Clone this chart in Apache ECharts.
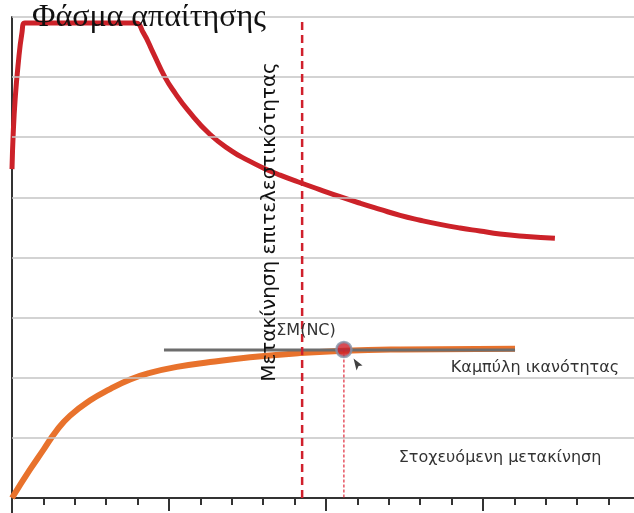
<!DOCTYPE html>
<html>
<head>
<meta charset="utf-8">
<script src="https://cdn.jsdelivr.net/npm/echarts@6/dist/echarts.min.js"></script>
<style>
  html, body { margin: 0; padding: 0; background: #fff; }
  #chart { width: 634px; height: 513px; }
</style>
</head>
<body>
<div id="chart"></div>
<script>
// Φάσμα απαίτησης (demand spectrum)
const demandX = [0, 0.04, 0.1, 0.19, 0.32, 0.41, 3.92, 4.18, 4.5, 4.87, 5.2, 5.6, 6.3, 7.0, 7.5, 8.0, 8.54, 9.1, 9.8, 10.4, 11.1, 11.72, 12.36, 13.0, 13.63, 14.27, 14.9, 15.54, 16.39, 17.29];
const demandY = [5.47, 6.08, 6.63, 7.18, 7.75, 7.9, 7.9, 7.74, 7.4, 7.0, 6.73, 6.45, 6.05, 5.77, 5.62, 5.49, 5.37, 5.26, 5.13, 5.02, 4.9, 4.8, 4.7, 4.62, 4.55, 4.49, 4.44, 4.39, 4.35, 4.32];

// Καμπύλη ικανότητας (capacity curve)
const capacityX = [0, 0.57, 1.0, 1.42, 1.85, 2.48, 3.12, 3.76, 4.39, 5.25, 6.31, 7.58, 9.17, 10.57, 12.36, 16.02];
const capacityY = [0, 0.47, 0.8, 1.12, 1.37, 1.62, 1.81, 1.97, 2.08, 2.18, 2.26, 2.34, 2.41, 2.45, 2.47, 2.48];

// bilinear line, performance point, target displacement
const bilinearX = [4.84, 16.02];
const bilinearY = [2.46, 2.46];
const perfPoint = [10.57, 2.47];
const targetDispX = 9.24;
const cursorPos = [11.02, 2.22];

const gridY = [1, 2, 3, 4, 5, 6, 7, 8];

const pairs = (xs, ys) => xs.map((x, i) => [x, ys[i]]);

const chart = echarts.init(document.getElementById('chart'));

chart.setOption({
  animation: false,
  grid: { left: 12, right: -6, top: 17, bottom: 0, outerBoundsMode: 'none' },
  xAxis: {
    type: 'value',
    min: 0,
    max: 20,
    interval: 5,
    axisLine: { show: true, onZero: true, lineStyle: { color: '#333', width: 2 } },
    axisTick: { show: true, length: 13, lineStyle: { color: '#333', width: 2 } },
    minorTick: { show: true, splitNumber: 5, length: 7, lineStyle: { color: '#333', width: 2 } },
    axisLabel: { show: false },
    splitLine: { show: false }
  },
  yAxis: {
    type: 'value',
    min: -0.25,
    max: 8,
    axisLine: { show: true, lineStyle: { color: '#333', width: 2 } },
    axisTick: { show: false },
    axisLabel: { show: false },
    splitLine: { show: false }
  },
  series: [
    {
      // horizontal gridlines
      type: 'line',
      data: [],
      z: 1,
      markLine: {
        silent: true,
        symbol: 'none',
        label: { show: false },
        lineStyle: { color: '#c4c4c4', width: 1.5, type: 'solid' },
        data: gridY.map(v => ({ yAxis: v }))
      }
    },
    {
      name: 'Καμπύλη ικανότητας',
      type: 'line',
      data: pairs(capacityX, capacityY),
      showSymbol: false,
      smooth: 0.5,
      lineStyle: { color: '#e8722c', width: 6 },
      z: 3
    },
    {
      type: 'line',
      data: pairs(bilinearX, bilinearY),
      showSymbol: false,
      lineStyle: { color: '#6d6d6d', width: 3 },
      z: 4
    },
    {
      name: 'Φάσμα απαίτησης',
      type: 'line',
      data: pairs(demandX, demandY),
      showSymbol: false,
      smooth: 0.5,
      lineStyle: { color: '#cc2229', width: 5 },
      z: 3
    },
    {
      type: 'line',
      data: [[targetDispX, 0], [targetDispX, 8]],
      showSymbol: false,
      lineStyle: { color: '#d0202c', width: 2.5, type: [8, 5] },
      z: 5
    },
    {
      type: 'line',
      data: [[perfPoint[0], perfPoint[1]], [perfPoint[0], 0]],
      showSymbol: false,
      lineStyle: { color: '#e0283a', width: 1.2, type: [3, 2] },
      z: 5
    },
    {
      type: 'scatter',
      data: [perfPoint],
      symbolSize: 15,
      itemStyle: { color: '#cc1f2a', borderColor: '#8393aa', borderWidth: 2.5 },
      z: 6
    },
    {
      type: 'scatter',
      data: [cursorPos],
      symbol: 'path://M0,0L9,7L5,7.5L3,12Z',
      symbolSize: [9, 12],
      itemStyle: { color: '#111' },
      z: 6
    }
  ],
  graphic: [
    {
      type: 'text', x: 32, y: 18,
      style: { text: 'Φάσμα απαίτησης', font: '32px "Liberation Serif"', fill: '#111', textVerticalAlign: 'middle' },
      z: 10
    },
    {
      type: 'text', x: 270, y: 222, rotation: Math.PI / 2,
      style: { text: 'Μετακίνηση επιτελεστικότητας', font: '20px "DejaVu Sans"', fill: '#111', textAlign: 'center', textVerticalAlign: 'middle' },
      z: 10
    },
    {
      type: 'text', x: 306, y: 331,
      style: { text: 'ΣΜ(NC)', font: '16px "DejaVu Sans"', fill: '#333', textAlign: 'center', textVerticalAlign: 'middle' },
      z: 10
    },
    {
      type: 'text', x: 535, y: 368,
      style: { text: 'Καμπύλη ικανότητας', font: '16px "DejaVu Sans"', fill: '#333', textAlign: 'center', textVerticalAlign: 'middle' },
      z: 10
    },
    {
      type: 'text', x: 500, y: 458,
      style: { text: 'Στοχευόμενη μετακίνηση', font: '16px "DejaVu Sans"', fill: '#333', textAlign: 'center', textVerticalAlign: 'middle' },
      z: 10
    }
  ]
});
</script>
</body>
</html>
